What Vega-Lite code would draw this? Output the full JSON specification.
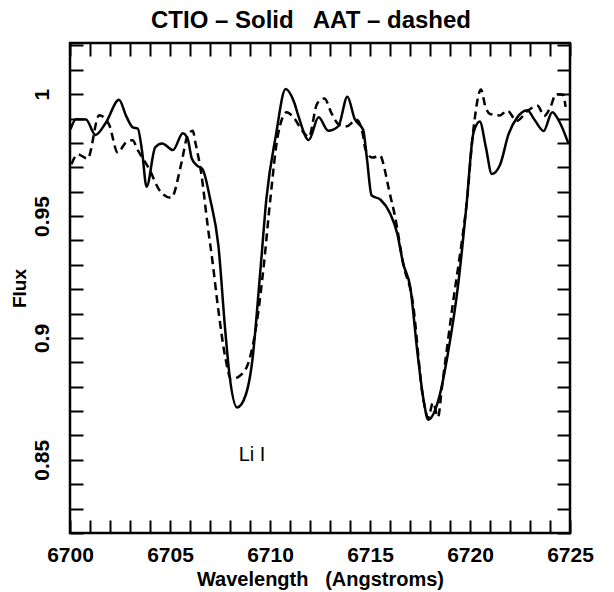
{
  "$schema": "https://vega.github.io/schema/vega-lite/v6.json",
  "width": 500,
  "height": 490,
  "autosize": {"type": "none"},
  "padding": {"left": 70, "top": 43, "right": 44, "bottom": 59},
  "background": "white",
  "title": {
    "text": "CTIO – Solid\u00a0\u00a0 AAT – dashed",
    "font": "Liberation Sans",
    "fontSize": 24,
    "fontWeight": "bold",
    "color": "black",
    "offset": 9,
    "dx": -9
  },
  "config": {
    "view": {"stroke": "black", "strokeWidth": 2.5},
    "axis": {
      "grid": false,
      "domain": false,
      "ticks": true,
      "tickColor": "black",
      "tickWidth": 2,
      "tickSize": -13,
      "labelColor": "black",
      "titleColor": "black",
      "labelFont": "Liberation Sans",
      "titleFont": "Liberation Sans",
      "labelFontSize": 21,
      "labelFontWeight": "bold",
      "titleFontWeight": "bold",
      "labelOverlap": false,
      "labelFlush": false
    }
  },
  "datasets": {
    "spectra": [
      {"w": 6700.03, "f": 0.9857, "s": "CTIO"},
      {"w": 6700.30, "f": 0.9897, "s": "CTIO"},
      {"w": 6700.80, "f": 0.9896, "s": "CTIO"},
      {"w": 6701.27, "f": 0.9833, "s": "CTIO"},
      {"w": 6701.80, "f": 0.9884, "s": "CTIO"},
      {"w": 6702.45, "f": 0.9977, "s": "CTIO"},
      {"w": 6702.81, "f": 0.9910, "s": "CTIO"},
      {"w": 6703.14, "f": 0.9864, "s": "CTIO"},
      {"w": 6703.39, "f": 0.9859, "s": "CTIO"},
      {"w": 6703.60, "f": 0.9768, "s": "CTIO"},
      {"w": 6703.83, "f": 0.9620, "s": "CTIO"},
      {"w": 6704.26, "f": 0.9782, "s": "CTIO"},
      {"w": 6704.61, "f": 0.9798, "s": "CTIO"},
      {"w": 6705.15, "f": 0.9771, "s": "CTIO"},
      {"w": 6705.64, "f": 0.9840, "s": "CTIO"},
      {"w": 6705.88, "f": 0.9818, "s": "CTIO"},
      {"w": 6706.09, "f": 0.9736, "s": "CTIO"},
      {"w": 6706.37, "f": 0.9706, "s": "CTIO"},
      {"w": 6706.62, "f": 0.9693, "s": "CTIO"},
      {"w": 6707.01, "f": 0.9569, "s": "CTIO"},
      {"w": 6707.42, "f": 0.9379, "s": "CTIO"},
      {"w": 6707.76, "f": 0.9033, "s": "CTIO"},
      {"w": 6707.97, "f": 0.8852, "s": "CTIO"},
      {"w": 6708.36, "f": 0.8715, "s": "CTIO"},
      {"w": 6708.79, "f": 0.8767, "s": "CTIO"},
      {"w": 6709.09, "f": 0.8890, "s": "CTIO"},
      {"w": 6709.54, "f": 0.9298, "s": "CTIO"},
      {"w": 6709.82, "f": 0.9572, "s": "CTIO"},
      {"w": 6710.29, "f": 0.9829, "s": "CTIO"},
      {"w": 6710.78, "f": 1.0021, "s": "CTIO"},
      {"w": 6711.21, "f": 0.9966, "s": "CTIO"},
      {"w": 6711.43, "f": 0.9908, "s": "CTIO"},
      {"w": 6711.94, "f": 0.9812, "s": "CTIO"},
      {"w": 6712.43, "f": 0.9905, "s": "CTIO"},
      {"w": 6712.91, "f": 0.9850, "s": "CTIO"},
      {"w": 6713.42, "f": 0.9869, "s": "CTIO"},
      {"w": 6713.87, "f": 0.9990, "s": "CTIO"},
      {"w": 6714.23, "f": 0.9899, "s": "CTIO"},
      {"w": 6714.66, "f": 0.9853, "s": "CTIO"},
      {"w": 6714.85, "f": 0.9733, "s": "CTIO"},
      {"w": 6715.08, "f": 0.9585, "s": "CTIO"},
      {"w": 6715.53, "f": 0.9567, "s": "CTIO"},
      {"w": 6716.00, "f": 0.9512, "s": "CTIO"},
      {"w": 6716.36, "f": 0.9429, "s": "CTIO"},
      {"w": 6716.66, "f": 0.9305, "s": "CTIO"},
      {"w": 6717.01, "f": 0.9210, "s": "CTIO"},
      {"w": 6717.38, "f": 0.8934, "s": "CTIO"},
      {"w": 6717.69, "f": 0.8740, "s": "CTIO"},
      {"w": 6717.91, "f": 0.8665, "s": "CTIO"},
      {"w": 6718.45, "f": 0.8754, "s": "CTIO"},
      {"w": 6718.88, "f": 0.8929, "s": "CTIO"},
      {"w": 6719.42, "f": 0.9227, "s": "CTIO"},
      {"w": 6719.82, "f": 0.9541, "s": "CTIO"},
      {"w": 6720.17, "f": 0.9840, "s": "CTIO"},
      {"w": 6720.49, "f": 0.9888, "s": "CTIO"},
      {"w": 6720.79, "f": 0.9784, "s": "CTIO"},
      {"w": 6721.09, "f": 0.9673, "s": "CTIO"},
      {"w": 6721.51, "f": 0.9712, "s": "CTIO"},
      {"w": 6721.92, "f": 0.9834, "s": "CTIO"},
      {"w": 6722.35, "f": 0.9903, "s": "CTIO"},
      {"w": 6722.86, "f": 0.9934, "s": "CTIO"},
      {"w": 6723.25, "f": 0.9892, "s": "CTIO"},
      {"w": 6723.68, "f": 0.9849, "s": "CTIO"},
      {"w": 6724.11, "f": 0.9926, "s": "CTIO"},
      {"w": 6724.49, "f": 0.9884, "s": "CTIO"},
      {"w": 6724.91, "f": 0.9800, "s": "CTIO"},

      {"w": 6700.07, "f": 0.9713, "s": "AAT"},
      {"w": 6700.39, "f": 0.9753, "s": "AAT"},
      {"w": 6700.88, "f": 0.9736, "s": "AAT"},
      {"w": 6701.46, "f": 0.9914, "s": "AAT"},
      {"w": 6701.95, "f": 0.9876, "s": "AAT"},
      {"w": 6702.39, "f": 0.9760, "s": "AAT"},
      {"w": 6702.76, "f": 0.9799, "s": "AAT"},
      {"w": 6703.12, "f": 0.9811, "s": "AAT"},
      {"w": 6703.40, "f": 0.9769, "s": "AAT"},
      {"w": 6703.96, "f": 0.9693, "s": "AAT"},
      {"w": 6704.52, "f": 0.9601, "s": "AAT"},
      {"w": 6705.06, "f": 0.9575, "s": "AAT"},
      {"w": 6705.58, "f": 0.9721, "s": "AAT"},
      {"w": 6705.88, "f": 0.9831, "s": "AAT"},
      {"w": 6706.14, "f": 0.9850, "s": "AAT"},
      {"w": 6706.27, "f": 0.9801, "s": "AAT"},
      {"w": 6706.56, "f": 0.9677, "s": "AAT"},
      {"w": 6706.90, "f": 0.9450, "s": "AAT"},
      {"w": 6707.10, "f": 0.9330, "s": "AAT"},
      {"w": 6707.44, "f": 0.9100, "s": "AAT"},
      {"w": 6707.76, "f": 0.8922, "s": "AAT"},
      {"w": 6708.06, "f": 0.8831, "s": "AAT"},
      {"w": 6708.57, "f": 0.8850, "s": "AAT"},
      {"w": 6708.95, "f": 0.8906, "s": "AAT"},
      {"w": 6709.32, "f": 0.9053, "s": "AAT"},
      {"w": 6709.69, "f": 0.9298, "s": "AAT"},
      {"w": 6710.02, "f": 0.9572, "s": "AAT"},
      {"w": 6710.39, "f": 0.9829, "s": "AAT"},
      {"w": 6710.84, "f": 0.9926, "s": "AAT"},
      {"w": 6711.18, "f": 0.9904, "s": "AAT"},
      {"w": 6711.65, "f": 0.9846, "s": "AAT"},
      {"w": 6711.94, "f": 0.9824, "s": "AAT"},
      {"w": 6712.36, "f": 0.9962, "s": "AAT"},
      {"w": 6712.72, "f": 0.9982, "s": "AAT"},
      {"w": 6713.09, "f": 0.9919, "s": "AAT"},
      {"w": 6713.42, "f": 0.9877, "s": "AAT"},
      {"w": 6713.82, "f": 0.9868, "s": "AAT"},
      {"w": 6714.33, "f": 0.9895, "s": "AAT"},
      {"w": 6714.65, "f": 0.9832, "s": "AAT"},
      {"w": 6714.77, "f": 0.9774, "s": "AAT"},
      {"w": 6715.11, "f": 0.9740, "s": "AAT"},
      {"w": 6715.51, "f": 0.9747, "s": "AAT"},
      {"w": 6715.74, "f": 0.9689, "s": "AAT"},
      {"w": 6715.95, "f": 0.9607, "s": "AAT"},
      {"w": 6716.25, "f": 0.9499, "s": "AAT"},
      {"w": 6716.66, "f": 0.9305, "s": "AAT"},
      {"w": 6717.13, "f": 0.9152, "s": "AAT"},
      {"w": 6717.65, "f": 0.8756, "s": "AAT"},
      {"w": 6717.91, "f": 0.8673, "s": "AAT"},
      {"w": 6718.15, "f": 0.8735, "s": "AAT"},
      {"w": 6718.40, "f": 0.8675, "s": "AAT"},
      {"w": 6718.60, "f": 0.8800, "s": "AAT"},
      {"w": 6719.13, "f": 0.9133, "s": "AAT"},
      {"w": 6719.61, "f": 0.9407, "s": "AAT"},
      {"w": 6719.82, "f": 0.9541, "s": "AAT"},
      {"w": 6720.17, "f": 0.9856, "s": "AAT"},
      {"w": 6720.55, "f": 1.0019, "s": "AAT"},
      {"w": 6720.77, "f": 0.9949, "s": "AAT"},
      {"w": 6721.00, "f": 0.9919, "s": "AAT"},
      {"w": 6721.50, "f": 0.9913, "s": "AAT"},
      {"w": 6721.86, "f": 0.9933, "s": "AAT"},
      {"w": 6722.34, "f": 0.9890, "s": "AAT"},
      {"w": 6722.86, "f": 0.9930, "s": "AAT"},
      {"w": 6723.38, "f": 0.9953, "s": "AAT"},
      {"w": 6723.71, "f": 0.9911, "s": "AAT"},
      {"w": 6724.02, "f": 0.9947, "s": "AAT"},
      {"w": 6724.30, "f": 1.0000, "s": "AAT"},
      {"w": 6724.65, "f": 0.9998, "s": "AAT"},
      {"w": 6724.78, "f": 0.9948, "s": "AAT"}
    ],
    "lines": [
      {"w": 6709.1, "f": 0.852, "t": "Li I"}
    ]
  },
  "resolve": {"axis": {"x": "independent", "y": "independent"}},
  "layer": [
    {
      "data": {"name": "spectra"},
      "transform": [{"filter": "datum.s === 'CTIO'"}],
      "mark": {"type": "line", "color": "black", "strokeWidth": 2.5, "interpolate": "monotone"},
      "encoding": {
        "x": {
          "field": "w", "type": "quantitative",
          "scale": {"domain": [6700, 6725], "nice": false, "zero": false},
          "axis": {
            "orient": "bottom",
            "title": "Wavelength\u00a0\u00a0 (Angstroms)",
            "titleFontSize": 20,
            "titlePadding": 4,
            "values": [6700,6701,6702,6703,6704,6705,6706,6707,6708,6709,6710,6711,6712,6713,6714,6715,6716,6717,6718,6719,6720,6721,6722,6723,6724,6725],
            "format": "d",
            "labelExpr": "datum.value % 5 === 0 ? datum.label : ''",
            "labelBaseline": "top",
            "labelPadding": 24,
            "encode": {"ticks": {"update": {"y2": {"signal": "datum.value % 5 === 0 ? -13 : -7"}}}}
          }
        },
        "y": {
          "field": "f", "type": "quantitative",
          "scale": {"domain": [0.82, 1.021], "nice": false, "zero": false},
          "axis": {
            "orient": "left",
            "title": "Flux",
            "titleFontSize": 19,
            "titlePadding": 2,
            "values": [0.82,0.83,0.84,0.85,0.86,0.87,0.88,0.89,0.9,0.91,0.92,0.93,0.94,0.95,0.96,0.97,0.98,0.99,1,1.01,1.02],
            "format": ".2~f",
            "labelExpr": "abs(datum.value * 20 - round(datum.value * 20)) < 0.001 ? datum.label : ''",
            "labelAngle": -90,
            "labelAlign": "center",
            "labelBaseline": "alphabetic",
            "labelPadding": 35,
            "encode": {"ticks": {"update": {"x2": {"signal": "abs(datum.value * 20 - round(datum.value * 20)) < 0.001 ? 13 : 7"}}}}
          }
        }
      }
    },
    {
      "data": {"name": "spectra"},
      "transform": [{"filter": "datum.s === 'AAT'"}],
      "mark": {"type": "line", "color": "black", "strokeWidth": 2.5, "strokeDash": [8, 5], "interpolate": "monotone"},
      "encoding": {
        "x": {
          "field": "w", "type": "quantitative",
          "scale": {"domain": [6700, 6725], "nice": false, "zero": false},
          "axis": {
            "orient": "top",
            "title": null,
            "labels": false,
            "values": [6700,6701,6702,6703,6704,6705,6706,6707,6708,6709,6710,6711,6712,6713,6714,6715,6716,6717,6718,6719,6720,6721,6722,6723,6724,6725],
            "encode": {"ticks": {"update": {"y2": {"signal": "datum.value % 5 === 0 ? 13 : 7"}}}}
          }
        },
        "y": {
          "field": "f", "type": "quantitative",
          "scale": {"domain": [0.82, 1.021], "nice": false, "zero": false},
          "axis": {
            "orient": "right",
            "title": null,
            "labels": false,
            "values": [0.82,0.83,0.84,0.85,0.86,0.87,0.88,0.89,0.9,0.91,0.92,0.93,0.94,0.95,0.96,0.97,0.98,0.99,1,1.01,1.02],
            "encode": {"ticks": {"update": {"x2": {"signal": "abs(datum.value * 20 - round(datum.value * 20)) < 0.001 ? -13 : -7"}}}}
          }
        }
      }
    },
    {
      "data": {"name": "lines"},
      "mark": {"type": "text", "font": "Liberation Sans", "fontSize": 20, "color": "black", "align": "center", "baseline": "middle"},
      "encoding": {
        "x": {"field": "w", "type": "quantitative", "axis": null},
        "y": {"field": "f", "type": "quantitative", "axis": null},
        "text": {"field": "t"}
      }
    }
  ]
}
